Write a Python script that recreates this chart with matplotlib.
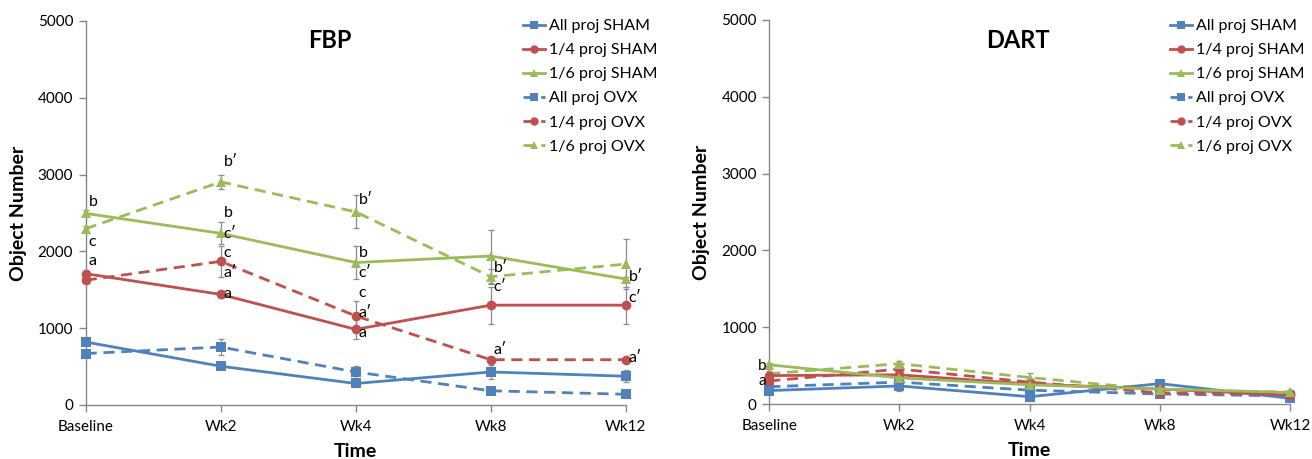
import matplotlib
matplotlib.use("Agg")
import matplotlib.pyplot as plt
from matplotlib.lines import Line2D

plt.rcParams['font.family'] = ['Lato', 'DejaVu Sans']

categories = ['Baseline', 'Wk2', 'Wk4', 'Wk8', 'Wk12']
series_labels = ['All proj SHAM', '1/4 proj SHAM', '1/6 proj SHAM',
                 'All proj OVX', '1/4 proj OVX', '1/6 proj OVX']

# FBP panel
fbp_all_sham = [820, 505, 280, 430, 375]
fbp_q_sham = [1710, 1440, 985, 1300, 1300]
fbp_s_sham = [2495, 2235, 1855, 1940, 1640]
fbp_all_ovx = [670, 755, 430, 185, 140]
fbp_q_ovx = [1625, 1870, 1160, 590, 590]
fbp_s_ovx = [2295, 2905, 2515, 1670, 1835]

fbp_err_all_sham = [40, 40, 30, 85, 75]
fbp_err_q_sham = [40, 50, 130, 240, 240]
fbp_err_s_sham = [40, 145, 210, 345, 30]
fbp_err_all_ovx = [30, 100, 80, 30, 30]
fbp_err_q_ovx = [30, 200, 195, 30, 30]
fbp_err_s_ovx = [40, 90, 215, 100, 325]

# DART panel
dart_all_sham = [175, 235, 95, 265, 75]
dart_q_sham = [370, 380, 260, 195, 115]
dart_s_sham = [510, 340, 250, 195, 150]
dart_all_ovx = [225, 285, 180, 130, 105]
dart_q_ovx = [300, 455, 285, 145, 125]
dart_s_ovx = [395, 525, 345, 185, 155]

dart_err_all_sham = [60, 60, 60, 50, 40]
dart_err_q_sham = [30, 40, 30, 30, 30]
dart_err_s_sham = [30, 30, 30, 30, 30]
dart_err_all_ovx = [30, 40, 40, 40, 30]
dart_err_q_ovx = [30, 50, 40, 30, 30]
dart_err_s_ovx = [30, 40, 60, 30, 30]

# significance letters: (text, category index, value)
fbp_letters = [
    ('b', 0, 2640), ('c', 0, 2127), ('a', 0, 1880),
    ('b\u2032', 1, 3170), ('b', 1, 2496), ('c\u2032', 1, 2222), ('c', 1, 1975),
    ('a\u2032', 1, 1715), ('a', 1, 1445),
    ('b\u2032', 2, 2670), ('b', 2, 1983), ('c\u2032', 2, 1715), ('c', 2, 1454),
    ('a\u2032', 2, 1194), ('a', 2, 942),
    ('b\u2032', 3, 1788), ('c\u2032', 3, 1532), ('a\u2032', 3, 716),
    ('b\u2032', 4, 1662), ('c\u2032', 4, 1389), ('a\u2032', 4, 616),
]
dart_letters = [('b', 0, 490), ('a', 0, 305)]

BLUE = '#4F81BD'
RED = '#C0504D'
GREEN = '#9BBB59'
GRAY = '#868686'

colors = [BLUE, RED, GREEN, BLUE, RED, GREEN]
markers = ['s', 'o', '^', 's', 'o', '^']
styles = ['-', '-', '-', (0, (4, 2.4)), (0, (4, 2.4)), (0, (4, 2.4))]

W, H = 1312, 459
fig = plt.figure(figsize=(W / 100, H / 100), dpi=100)


def make_panel(rect, series, errs, letters, title, title_xy, legend_xy, letter_side):
    ax = fig.add_axes(rect)
    x = list(range(len(categories)))
    order = [3, 4, 5, 0, 1, 2]
    for i in order:
        ax.errorbar(x, series[i], yerr=errs[i], fmt='none', ecolor='#8c8c8c',
                    elinewidth=0.9, capsize=2.5, capthick=0.9, zorder=2, clip_on=False)
    for i in order:
        ax.plot(x, series[i], color=colors[i], linestyle=styles[i], linewidth=2.0,
                marker=markers[i], markersize=7 if markers[i] != 's' else 6.5,
                markeredgewidth=0, zorder=3, clip_on=False)
    ax.set_xlim(0, 4)
    ax.set_ylim(0, 5000)
    ax.set_yticks([0, 1000, 2000, 3000, 4000, 5000])
    ax.set_xticks(x)
    ax.set_xticklabels(categories)
    for s in ['top', 'right']:
        ax.spines[s].set_visible(False)
    for s in ['left', 'bottom']:
        ax.spines[s].set_color(GRAY)
        ax.spines[s].set_linewidth(1.0)
        ax.spines[s].set_zorder(1)
    ax.tick_params(axis='both', colors=GRAY, length=5, width=1.0, labelsize=11,
                   labelcolor='black')
    ax.tick_params(axis='x', pad=6)
    ax.tick_params(axis='y', pad=4)
    ax.set_xlabel('Time', fontsize=14, fontweight='bold', labelpad=6)
    ax.set_ylabel('Object Number', fontsize=14, fontweight='bold', labelpad=8)
    for txt, xi, val in letters:
        if letter_side == 'right':
            ax.text(xi + 0.022, val, txt, ha='left', va='center', fontsize=11.5, zorder=4)
        else:
            ax.text(xi - 0.022, val, txt, ha='right', va='center', fontsize=11, zorder=4)
    fig.text(title_xy[0] / W, 1 - title_xy[1] / H, title, ha='center', va='center',
             fontsize=17, fontweight='bold')
    handles = [Line2D([0], [0], color=colors[i], linestyle=styles[i], linewidth=2.0,
                      marker=markers[i], markersize=6, markeredgewidth=0)
               for i in range(6)]
    ax.legend(handles, series_labels, loc='upper left',
              bbox_to_anchor=(legend_xy[0] / W, 1 - legend_xy[1] / H),
              bbox_transform=fig.transFigure, frameon=False, fontsize=11.5,
              handlelength=1.4, handletextpad=0.2, labelspacing=0.62,
              borderpad=0, borderaxespad=0)
    return ax


fbp_series = [fbp_all_sham, fbp_q_sham, fbp_s_sham, fbp_all_ovx, fbp_q_ovx, fbp_s_ovx]
fbp_errs = [fbp_err_all_sham, fbp_err_q_sham, fbp_err_s_sham,
            fbp_err_all_ovx, fbp_err_q_ovx, fbp_err_s_ovx]
dart_series = [dart_all_sham, dart_q_sham, dart_s_sham, dart_all_ovx, dart_q_ovx, dart_s_ovx]
dart_errs = [dart_err_all_sham, dart_err_q_sham, dart_err_s_sham,
             dart_err_all_ovx, dart_err_q_ovx, dart_err_s_ovx]

make_panel([85.7 / W, 1 - 405 / H, (625.7 - 85.7) / W, (405 - 21) / H],
           fbp_series, fbp_errs, fbp_letters, 'FBP', (330, 40), (523, 19), 'right')
make_panel([769.3 / W, 1 - 404 / H, (1290 - 769.3) / W, (404 - 20) / H],
           dart_series, dart_errs, dart_letters, 'DART', (1018, 40), (1170, 19), 'left')

fig.savefig('out.png', dpi=100)
